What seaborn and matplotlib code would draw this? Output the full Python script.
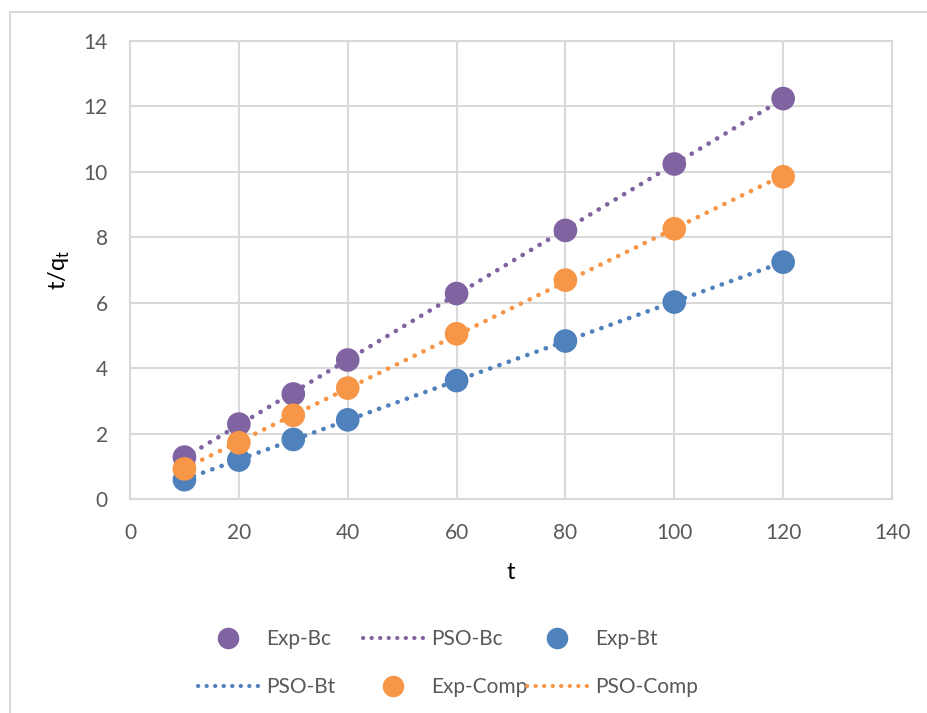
import numpy as np
import pandas as pd
import seaborn as sns
from matplotlib import pyplot as plt
from matplotlib.lines import Line2D
from matplotlib.patches import Rectangle

# contact time (min)
t = [10, 20, 30, 40, 60, 80, 100, 120]

# t/qt
bc_vals = [1.28, 2.29, 3.21, 4.25, 6.28, 8.21, 10.24, 12.24]
bt_vals = [0.59, 1.19, 1.82, 2.42, 3.62, 4.83, 6.02, 7.24]
comp_vals = [0.92, 1.72, 2.56, 3.39, 5.05, 6.69, 8.26, 9.85]

series_names = ['Bc', 'Bt', 'Comp']
series_colors = ['#8064A2', '#4F81BD', '#F79646']

GRID = '#D9D9D9'
TEXT = '#595959'

sns.set_style('white')
plt.rcParams['font.family'] = ['Lato', 'DejaVu Sans']

df = pd.DataFrame({'t': t * 3,
                   'tq': bc_vals + bt_vals + comp_vals,
                   'series': sum([[n] * len(t) for n in series_names], [])})

fig = plt.figure(figsize=(9.28, 7.13), dpi=100)
ax = fig.add_axes([130 / 928, 1 - 499 / 713, (892 - 130) / 928, (499 - 41) / 713])

dot_style = dict(linestyle=(0, (0.05, 2.1)), linewidth=3.3, dash_capstyle='round')

# trend lines first (dotted linear fits), then the measured points
for name, col in zip(series_names, series_colors):
    sub = df[df['series'] == name]
    sns.regplot(data=sub, x='t', y='tq', scatter=False, ci=None, truncate=True,
                color=col, line_kws=dot_style, ax=ax)

sns.scatterplot(data=df, x='t', y='tq', hue='series', palette=dict(zip(series_names, series_colors)),
                s=290, linewidth=0, legend=False, zorder=3, ax=ax)

ax.set_xlim(0, 140)
ax.set_ylim(0, 14)
ax.set_xticks(np.arange(0, 141, 20))
ax.set_yticks(np.arange(0, 15, 2))
ax.grid(True, color=GRID, linewidth=1.5)
ax.set_axisbelow(True)
for sp in ax.spines.values():
    sp.set_visible(True)
    sp.set_color(GRID)
    sp.set_linewidth(1.5)
ax.tick_params(axis='both', length=0, labelsize=15, labelcolor=TEXT)
ax.tick_params(axis='x', pad=17)
ax.tick_params(axis='y', pad=16)

ax.set_xlabel('t', fontsize=17, color='black', labelpad=14)
ax.set_ylabel('t/q$_\\mathregular{t}$', fontsize=17, color='black', labelpad=8)

# legend, Excel style: three fixed columns of two rows
def point(c):
    return Line2D([], [], linestyle='none', marker='o', markersize=14.5, color=c)

def dotted(c):
    return Line2D([], [], color=c, linestyle=(0, (0.05, 2.0)), linewidth=3.0,
                  dash_capstyle='round')

legend_cols = [
    ([point(series_colors[0]), dotted(series_colors[1])], ['Exp-Bc', 'PSO-Bt'], 198),
    ([dotted(series_colors[0]), point(series_colors[2])], ['PSO-Bc', 'Exp-Comp'], 363),
    ([point(series_colors[1]), dotted(series_colors[2])], ['Exp-Bt', 'PSO-Comp'], 527),
]
for hs, ls, x0 in legend_cols:
    leg = fig.legend(hs, ls, loc='center left', bbox_to_anchor=(x0 / 928, 1 - 663 / 713),
                     frameon=False, fontsize=15, handlelength=2.9, handletextpad=0.35,
                     labelspacing=1.35, borderpad=0, borderaxespad=0)
    for txt in leg.get_texts():
        txt.set_color(TEXT)

# chart area border
fig.add_artist(Rectangle((10 / 928, -0.1), 1.2, 1 - 12 / 713 + 0.1, transform=fig.transFigure,
                         fill=False, edgecolor=GRID, linewidth=1.5))

fig.savefig('out.png', dpi=100)
